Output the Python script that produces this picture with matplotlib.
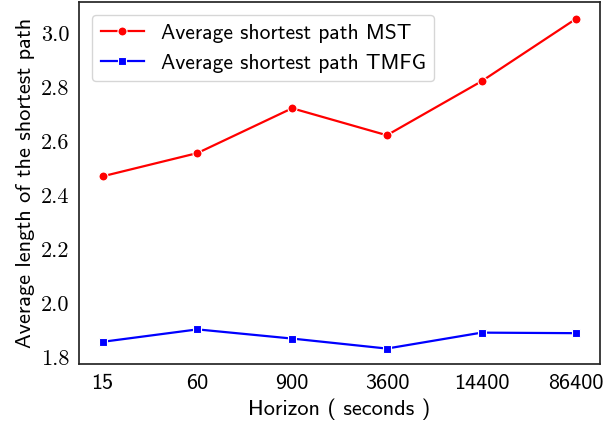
import matplotlib
matplotlib.use("Agg")
import matplotlib.pyplot as plt
import numpy as np

horizons = ["15", "60", "900", "3600", "14400", "86400"]
mst_path = [2.47, 2.556, 2.722, 2.622, 2.822, 3.054]
tmfg_path = [1.857, 1.903, 1.869, 1.832, 1.891, 1.889]
y_ticks = [1.8, 2.0, 2.2, 2.4, 2.6, 2.8, 3.0]

SANS = "cmss10"
SERIF = "cmr10"
plt.rcParams["axes.formatter.use_mathtext"] = True

fig, ax = plt.subplots(figsize=(6.03, 4.29), dpi=100)
x = np.arange(len(horizons))
ax.plot(x, mst_path, "o-", color="red", lw=1.6, ms=6.5, mec="white", mew=0.8,
        label="Average shortest path MST")
ax.plot(x, tmfg_path, "s-", color="blue", lw=1.6, ms=6, mec="white", mew=0.8,
        label="Average shortest path TMFG")

ax.set_xlim(-0.25, 5.25)
ax.set_ylim(1.774, 3.115)
ax.set_xticks(x)
ax.set_xticklabels(horizons, fontsize=16, family=SANS)
ax.set_yticks(y_ticks)
ax.set_yticklabels([f"{v:.1f}" for v in y_ticks], fontsize=16, family=SERIF)
ax.tick_params(length=0, pad=7)
ax.set_xlabel("Horizon ( seconds )", fontsize=16, family=SANS)
ax.set_ylabel("Average length of the shortest path", fontsize=16, family=SANS)
for s in ax.spines.values():
    s.set_color("#262626")
    s.set_linewidth(1.25)

ax.legend(loc="upper left", prop={"family": SANS, "size": 15.5}, frameon=True,
          edgecolor="#cccccc", handlelength=2.0, borderaxespad=0.6)

fig.subplots_adjust(left=0.131, right=0.995, top=0.995, bottom=0.151)
fig.savefig("out.png", dpi=100)
